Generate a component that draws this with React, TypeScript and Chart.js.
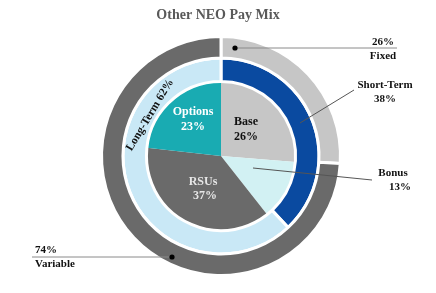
import React, { useEffect, useRef } from "react";
import { Chart, registerables } from "chart.js";

Chart.register(...registerables);

const outerLabels = ["Fixed", "Variable"];
const outerValues = [26, 74];
const middleLabels = ["Short-Term", "Long-Term"];
const middleValues = [38, 62];
const innerLabels = ["Base", "Bonus", "RSUs", "Options"];
const innerValues = [26, 13, 37, 23];
const titleText = "Other NEO Pay Mix";

const FONT = "'Liberation Serif', 'Times New Roman', serif";

const labelPlugin = {
  id: "payMixLabels",
  afterDraw(chart: any) {
    const ctx = chart.ctx as CanvasRenderingContext2D;
    const arc0 = chart.getDatasetMeta(0).data[0] as any;
    const cx = arc0.x;
    const cy = arc0.y;
    ctx.save();
    // title
    ctx.font = `bold 14px ${FONT}`;
    ctx.fillStyle = "#595959";
    ctx.textAlign = "center";
    ctx.textBaseline = "middle";
    ctx.fillText(titleText, chart.width / 2, 15);

    const text = (t: string, x: number, y: number, color = "#111", size = 11, align: CanvasTextAlign = "center") => {
      ctx.font = `bold ${size}px ${FONT}`;
      ctx.fillStyle = color;
      ctx.textAlign = align;
      ctx.textBaseline = "middle";
      ctx.fillText(t, x, y);
    };
    const line = (x1: number, y1: number, x2: number, y2: number, color: string) => {
      ctx.beginPath();
      ctx.strokeStyle = color;
      ctx.lineWidth = 1;
      ctx.moveTo(x1, y1);
      ctx.lineTo(x2, y2);
      ctx.stroke();
    };
    const dot = (x: number, y: number) => {
      ctx.beginPath();
      ctx.fillStyle = "#000";
      ctx.arc(x, y, 2.6, 0, Math.PI * 2);
      ctx.fill();
    };

    // Fixed
    line(cx + 14, cy - 108, cx + 176, cy - 108, "#8a8a8a");
    dot(cx + 14, cy - 108);
    text(`${outerValues[0]}%`, cx + 162, cy - 114, "#111", 11);
    text(outerLabels[0], cx + 162, cy - 100, "#111", 11);

    // Variable
    line(cx - 189, cy + 101, cx - 49, cy + 101, "#8a8a8a");
    dot(cx - 49, cy + 101);
    text(`${outerValues[1]}%`, cx - 186, cy + 94, "#111", 11, "left");
    text(outerLabels[1], cx - 186, cy + 108, "#111", 11, "left");

    // Short-Term
    line(cx + 79, cy - 33, cx + 133, cy - 66, "#555");
    text(middleLabels[0], cx + 164, cy - 71, "#111", 11);
    text(`${middleValues[0]}%`, cx + 164, cy - 57, "#111", 11);

    // Bonus
    line(cx + 32, cy + 12, cx + 151, cy + 24, "#555");
    text(innerLabels[1], cx + 172, cy + 17, "#111", 11);
    text(`${innerValues[1]}%`, cx + 179, cy + 31, "#111", 11);

    // Inner labels
    text(innerLabels[3], cx - 28, cy - 44, "#ffffff", 12);
    text(`${innerValues[3]}%`, cx - 28, cy - 29, "#ffffff", 12);
    text(innerLabels[0], cx + 25, cy - 34, "#111", 12);
    text(`${innerValues[0]}%`, cx + 25, cy - 19, "#111", 12);
    text(innerLabels[2], cx - 18, cy + 26, "#e6e6e6", 12);
    text(`${innerValues[2]}%`, cx - 16, cy + 40, "#e6e6e6", 12);

    // Long-Term rotated
    ctx.save();
    ctx.translate(cx - 71, cy - 41);
    ctx.rotate((-59 * Math.PI) / 180);
    text(`${middleLabels[1]} ${middleValues[1]}%`, 0, 0, "#111", 11.5);
    ctx.restore();

    ctx.restore();
  },
};

export default function App() {
  const ref = useRef<HTMLCanvasElement | null>(null);
  useEffect(() => {
    if (!ref.current) return;
    const chart = new Chart(ref.current, {
      type: "doughnut",
      data: {
        labels: innerLabels,
        datasets: [
          {
            label: "Outer",
            data: outerValues,
            backgroundColor: ["#c6c6c6", "#6a6a6a"],
            borderColor: "#ffffff",
            borderWidth: 3,
            weight: 21,
          } as any,
          {
            label: "Middle",
            data: middleValues,
            backgroundColor: ["#0a4aa0", "#c9e8f6"],
            borderColor: "#ffffff",
            borderWidth: 3,
            weight: 23,
          } as any,
          {
            label: "Inner",
            data: innerValues,
            backgroundColor: ["#c6c6c6", "#d2f1f3", "#6a6a6a", "#19abb2"],
            borderColor: "#ffffff",
            borderWidth: 0,
            weight: 73,
          } as any,
        ],
      },
      options: {
        animation: false,
        responsive: true,
        maintainAspectRatio: false,
        cutout: 0,
        layout: { padding: { top: 34, bottom: 15, left: 100, right: 94 } },
        plugins: {
          legend: { display: false },
          tooltip: { enabled: false },
          title: { display: false },
        },
      } as any,
      plugins: [labelPlugin],
    });
    return () => chart.destroy();
  }, []);
  return (
    <div style={{ position: "fixed", left: 0, top: 0, width: 436, height: 293, background: "#fff" }}>
      <canvas ref={ref} />
    </div>
  );
}
